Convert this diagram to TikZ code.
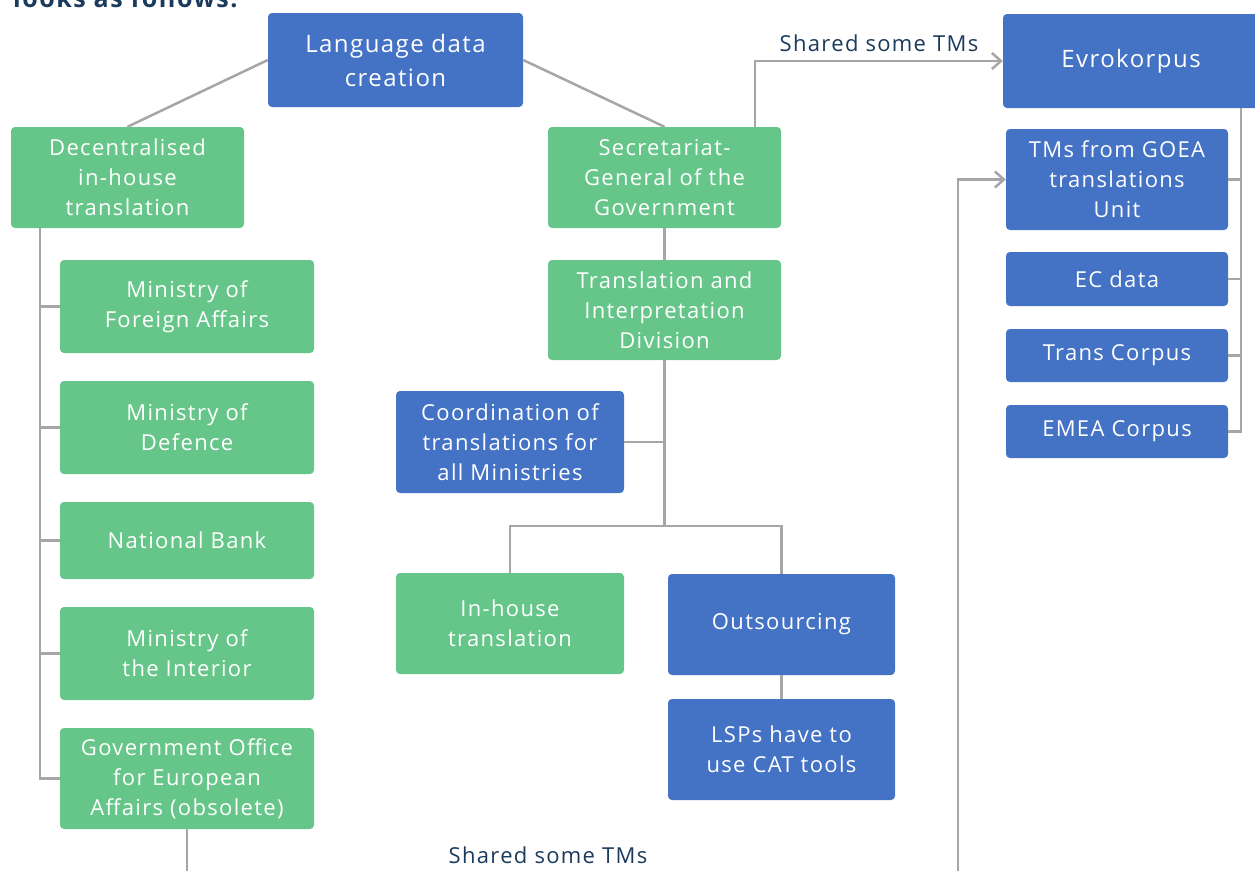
\documentclass[tikz,border=0pt]{standalone}
\usepackage{fontspec}
\setmainfont{Open Sans}[LetterSpace=6]
\usetikzlibrary{arrows.meta,positioning}

\definecolor{boxblue}{HTML}{4472C4}
\definecolor{boxgreen}{HTML}{66C68A}
\definecolor{linegray}{HTML}{A6A6A6}
\definecolor{navy}{HTML}{1B3A5C}

\begin{document}
\begin{tikzpicture}[x=1pt,y=-1pt,
  box/.style={rounded corners=4pt, inner sep=0pt, align=center, text=white,
    font=\fontsize{22}{30}\selectfont},
  bluebox/.style={box, fill=boxblue},
  greenbox/.style={box, fill=boxgreen},
  conn/.style={draw=linegray, line width=2.5pt},
  arrowconn/.style={conn, -{Straight Barb[length=9pt,width=16pt,line width=2.5pt]}},
  caption/.style={text=navy, font=\fontsize{22}{26}\selectfont, inner sep=0pt}
]
\useasboundingbox (0,0) rectangle (1255,870);
\clip (0,0) rectangle (1255,870);

% heading above the chart
\node[anchor=base west, inner sep=0pt, text=navy, font=\fontsize{25}{30}\bfseries\selectfont]
  (heading) at (13,8) {looks as follows:};

% top level
\node[bluebox, minimum width=255pt, minimum height=94pt, font=\fontsize{24}{34}\selectfont]
  (lang) at (395.5,60) {Language data\\creation};

% left branch
\node[greenbox, minimum width=233pt, minimum height=101pt] (dec) at (127.5,177.5)
  {Decentralised\\in-house\\translation};
\node[greenbox, minimum width=254pt, minimum height=93pt] (mfa) at (187,306.5)
  {Ministry of\\Foreign Affairs};
\node[greenbox, minimum width=254pt, minimum height=93pt] (mod) at (187,427.5)
  {Ministry of\\Defence};
\node[greenbox, minimum width=254pt, minimum height=77pt] (nb) at (187,540.5)
  {National Bank};
\node[greenbox, minimum width=254pt, minimum height=93pt] (moi) at (187,653.5)
  {Ministry of\\the Interior};
\node[greenbox, minimum width=254pt, minimum height=101pt] (goea) at (187,778.5)
  {Government Office\\for European\\Affairs (obsolete)};

% middle branch
\node[greenbox, minimum width=233pt, minimum height=101pt] (sec) at (664.5,177.5)
  {Secretariat-\\General of the\\Government};
\node[greenbox, minimum width=233pt, minimum height=100pt] (tid) at (664.5,310)
  {Translation and\\Interpretation\\Division};
\node[bluebox, minimum width=228pt, minimum height=102pt] (coord) at (510,442)
  {Coordination of\\translations for\\all Ministries};
\node[greenbox, minimum width=228pt, minimum height=101pt] (inh) at (510,623.5)
  {In-house\\translation};
\node[bluebox, minimum width=227pt, minimum height=101pt] (outs) at (781.5,624.5)
  {Outsourcing};
\node[bluebox, minimum width=227pt, minimum height=101pt] (lsp) at (781.5,749.5)
  {LSPs have to\\use CAT tools};

% right branch
\node[bluebox, minimum width=256pt, minimum height=94pt, font=\fontsize{24}{34}\selectfont]
  (evro) at (1131,61) {Evrokorpus};
\node[bluebox, minimum width=222pt, minimum height=101pt] (tms) at (1117,179.5)
  {TMs from GOEA\\translations\\Unit};
\node[bluebox, minimum width=222pt, minimum height=54pt] (ec) at (1117,279)
  {EC data};
\node[bluebox, minimum width=222pt, minimum height=53pt] (trans) at (1117,355.5)
  {Trans Corpus};
\node[bluebox, minimum width=222pt, minimum height=53pt] (emea) at (1117,431.5)
  {EMEA Corpus};

% edge labels
\node[caption] (lab1) at (879,43) {Shared some TMs};
\node[caption] (lab2) at (548,855) {Shared some TMs};

% helper points
\path (dec.south west) ++(29,0) coordinate (dtrunk);
\path (sec.north east) ++(-26,0) coordinate (secout);
\path (evro.south east) ++(-18,0) coordinate (etrunk);
\coordinate (split) at (664.5,526);
\coordinate (below) at (958,900);

% connectors
\draw[conn] (lang.west) -- (dec.north);
\draw[conn] (lang.east) -- (sec.north);

\draw[conn] (dtrunk) |- (goea.west);
\foreach \n in {mfa,mod,nb,moi}
  \draw[conn] (dtrunk |- \n.west) -- (\n.west);

\draw[conn] (sec) -- (tid);
\draw[conn] (tid.south) -- (split);
\draw[conn] (coord.east) -- (coord.east -| tid.south);
\draw[conn] (inh.north) |- (split) -| (outs.north);
\draw[conn] (outs) -- (lsp);

\draw[arrowconn] (secout) |- (evro.west);
\draw[conn] (etrunk) |- (emea.east);
\foreach \n in {tms,ec,trans}
  \draw[conn] (etrunk |- \n.east) -- (\n.east);

\draw[arrowconn] (goea.south) |- (below) |- (tms.west);
\end{tikzpicture}
\end{document}
